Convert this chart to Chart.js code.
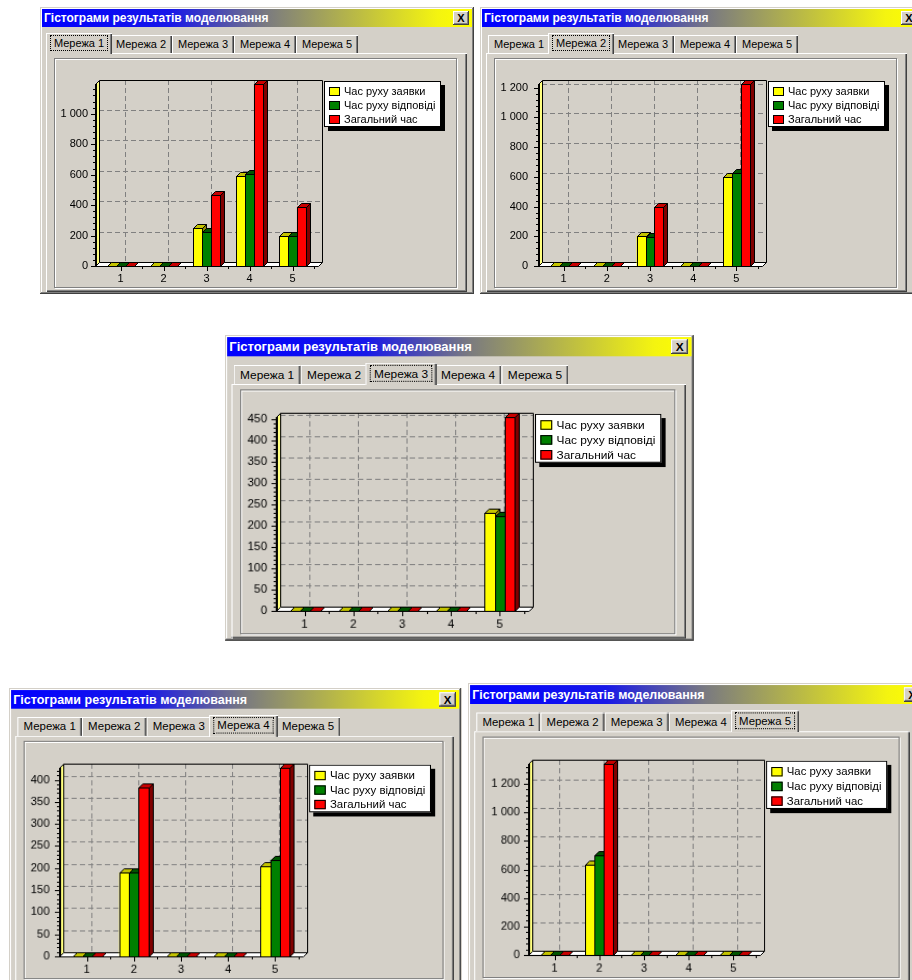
<!DOCTYPE html>
<html lang="uk">
<head>
<meta charset="UTF-8">
<title>Гістограми результатів моделювання</title>
<style>
    body {
        margin: 0;
        width: 912px;
        height: 980px;
        overflow: hidden;
        position: relative;
        background: #fff;
        font-family: "Liberation Sans", Arial, sans-serif;
        font-size: 11px;
        color: #000;
    }

    .win {
        position: absolute;
        width: 434px;
        height: 287px;
        background: #d4d0c8;
        transform-origin: 0 0;
        box-shadow: inset -1px -1px 0 #404040, inset 1px 1px 0 #d4d0c8,
                    inset -2px -2px 0 #808080, inset 2px 2px 0 #fff;
    }

    .title {
        position: absolute;
        left: 2px; top: 2px;
        height: 18px;
        background: linear-gradient(90deg, #0000ff 0%, #1818e8 30%, #7a7a80 52%, #c0c040 75%, #f4f410 92%, #ffff00 100%);
        color: #fff;
        font-weight: bold;
        font-size: 12px;
        line-height: 18px;
        padding-left: 2px;
        box-sizing: border-box;
        white-space: nowrap;
    }

    .close {
        position: absolute;
        top: 4px;
        width: 16px; height: 14px;
        background: #d4d0c8;
        box-shadow: inset -1px -1px 0 #404040, inset 1px 1px 0 #fff, inset -2px -2px 0 #808080;
        font-weight: bold;
        font-size: 11px;
        line-height: 14px;
        text-align: center;
        color: #000;
    }

    .tab {
        position: absolute;
        top: 28px;
        width: 62px; height: 18px;
        background: #d4d0c8;
        box-shadow: inset 1px 1px 0 #fff, inset -1px 0 0 #404040, inset -2px 0 0 #808080;
        line-height: 19px;
        text-align: center;
        white-space: nowrap;
    }

    .tab.active {
        top: 26px;
        height: 21px;
        z-index: 2;
        line-height: 20px;
    }

    .tab.active span {
        outline: 1px dotted #000;
        outline-offset: 1px;
        padding: 0 2px;
    }

    .panel {
        position: absolute;
        left: 6px; top: 46px;
        width: 421px; height: 239px;
        box-shadow: inset 1px 1px 0 #fff, inset -1px -1px 0 #404040, inset -2px -2px 0 #808080;
    }

    .group {
        position: absolute;
        left: 14px; top: 51px;
        width: 403px; height: 230px;
        box-sizing: border-box;
        border: 1px solid #808080;
        box-shadow: inset 1px 1px 0 #fff, 1px 1px 0 #fff;
    }

    canvas {
        position: absolute;
        left: 15px; top: 52px;
    }

    .legend {
        position: absolute;
        top: 74px;
        width: 117px; height: 46px;
        box-sizing: border-box;
        background: #fff;
        border: 1px solid #000;
        box-shadow: 4px 4px 0 #000;
        z-index: 3;
    }

    .legend div {
        position: absolute;
        left: 4px;
        height: 12px;
        line-height: 12px;
        white-space: nowrap;
    }

    .legend i {
        display: inline-block;
        width: 11px; height: 9px;
        box-sizing: border-box;
        border: 1px solid #000;
        vertical-align: -1px;
        margin-right: 4px;
    }
</style>
</head>
<body>
<script src="https://cdn.jsdelivr.net/npm/chart.js"></script>
<script>
    const windowTitle = 'Гістограми результатів моделювання';
    const tabNames = ['Мережа 1', 'Мережа 2', 'Мережа 3', 'Мережа 4', 'Мережа 5'];
    const categories = ['1', '2', '3', '4', '5'];
    const seriesNames = ['Час руху заявки', 'Час руху відповіді', 'Загальний час'];

    // Мережа 1
    const net1Request = [0, 0, 247, 592, 196];
    const net1Response = [0, 0, 220, 606, 196];
    const net1Total = [0, 0, 463, 1195, 390];
    // Мережа 2
    const net2Request = [0, 0, 205, 0, 598];
    const net2Response = [0, 0, 192, 0, 625];
    const net2Total = [0, 0, 399, 0, 1225];
    // Мережа 3
    const net3Request = [0, 0, 0, 0, 229];
    const net3Response = [0, 0, 0, 0, 223];
    const net3Total = [0, 0, 0, 0, 455];
    // Мережа 4
    const net4Request = [0, 190, 0, 0, 204];
    const net4Response = [0, 189, 0, 0, 219];
    const net4Total = [0, 383, 0, 0, 427];
    // Мережа 5
    const net5Request = [0, 635, 0, 0, 0];
    const net5Response = [0, 696, 0, 0, 0];
    const net5Total = [0, 1340, 0, 0, 0];

    const yStep = [200, 200, 50, 50, 200];

    // кольори серій: лицева грань, верх, бік
    const seriesColors = ['#ffff00', '#008000', '#ff0000'];
    const topColors = ['#c4c400', '#005400', '#c80000'];
    const sideColors = ['#8c8c00', '#003c00', '#800000'];

    // розташування вікон на сторінці (x, y, масштаб, ширина) і межі осей всередині вікна
    const layouts = [
        { x: 40, y: 7, sx: 1, sy: 1, w: 434, left: 55, right: 278, gap: 7 },
        { x: 480, y: 7, sx: 1, sy: 1, w: 442, left: 58, right: 282, gap: 10 },
        { x: 224.5, y: 334.6, sx: 1.08, sy: 1.065, w: 434, left: 47, right: 281, gap: 8 },
        { x: 9.4, y: 687.9, sx: 1.042, sy: 1.036, w: 434, left: 48, right: 282, gap: 9 },
        { x: 468, y: 683, sx: 1.035, sy: 1.05, w: 442, left: 58, right: 282, gap: 8 }
    ];

    const netData = [
        [net1Request, net1Response, net1Total],
        [net2Request, net2Response, net2Total],
        [net3Request, net3Response, net3Total],
        [net4Request, net4Response, net4Total],
        [net5Request, net5Response, net5Total]
    ];

    const D = 4;   // глибина 3D
    const E = 4;   // відступ категорій від стінок

    function line(ctx, x1, y1, x2, y2) {
        ctx.beginPath();
        ctx.moveTo(x1, y1);
        ctx.lineTo(x2, y2);
        ctx.stroke();
    }

    function poly(ctx, pts, fill) {
        ctx.beginPath();
        ctx.moveTo(pts[0][0], pts[0][1]);
        for (let k = 1; k < pts.length; k++) ctx.lineTo(pts[k][0], pts[k][1]);
        ctx.closePath();
        ctx.fillStyle = fill;
        ctx.fill();
        ctx.stroke();
    }

    const box3d = {
        id: 'box3d',
        beforeDatasetsDraw(chart) {
            const { ctx, chartArea: a, scales: { x, y } } = chart;
            const l = a.left - E, r = a.right + E, t = a.top, b = a.bottom;
            ctx.save();
            ctx.lineWidth = 1;

            // сітка на задній стінці
            ctx.strokeStyle = '#808080';
            ctx.setLineDash([5, 3]);
            y.ticks.forEach(tk => {
                if (tk.value === 0) return;
                const py = Math.round(y.getPixelForValue(tk.value) - D) + 0.5;
                line(ctx, l + D, py, r + D, py);
            });
            x.ticks.forEach((tk, i) => {
                const px = Math.round(x.getPixelForTick(i) + D) + 0.5;
                line(ctx, px, t - D, px, b - D);
            });
            ctx.setLineDash([]);

            // задня стінка
            ctx.strokeStyle = '#000';
            ctx.beginPath();
            ctx.moveTo(l + D + 0.5, t - D + 0.5);
            ctx.lineTo(r + D + 0.5, t - D + 0.5);
            ctx.lineTo(r + D + 0.5, b - D + 0.5);
            ctx.stroke();

            // ліва стінка і підлога
            poly(ctx, [[l + 0.5, t + 0.5], [l + D + 0.5, t - D + 0.5], [l + D + 0.5, b - D + 0.5], [l + 0.5, b + 0.5]], '#ffff80');
            poly(ctx, [[l + 0.5, b + 0.5], [l + D + 0.5, b - D + 0.5], [r + D + 0.5, b - D + 0.5], [r + 0.5, b + 0.5]], '#ffffff');
            ctx.restore();
        },
        afterDatasetsDraw(chart) {
            const { ctx, chartArea: a, scales: { x, y } } = chart;
            const l = a.left - E, r = a.right + E, t = a.top, b = a.bottom;
            ctx.save();
            ctx.lineWidth = 1;
            ctx.strokeStyle = '#000';

            // стовпчики зліва направо, щоб грані перекривались правильно
            chart.data.labels.forEach((lab, i) => {
                chart.data.datasets.forEach((ds, d) => {
                    const el = chart.getDatasetMeta(d).data[i];
                    const p = el.getProps(['x', 'y', 'base', 'width'], true);
                    const x1 = Math.round(p.x - p.width / 2) + 0.5;
                    const x2 = Math.round(p.x + p.width / 2) + 0.5;
                    const top = Math.round(p.y) + 0.5;
                    const base = Math.round(p.base) + 0.5;
                    poly(ctx, [[x2, top], [x2 + D, top - D], [x2 + D, base - D], [x2, base]], sideColors[d]);
                    poly(ctx, [[x1, top], [x1 + D, top - D], [x2 + D, top - D], [x2, top]], topColors[d]);
                    if (base - top > 0.5) {
                        ctx.fillStyle = seriesColors[d];
                        ctx.fillRect(x1, top, x2 - x1, base - top);
                        ctx.strokeRect(x1, top, x2 - x1, base - top);
                    }
                });
            });

            // передні осі
            ctx.lineWidth = 2;
            line(ctx, l + 1, t, l + 1, b + 1);
            ctx.lineWidth = 1;
            line(ctx, l, b + 0.5, r, b + 0.5);

            // поділки осі Y (великі та дрібні)
            const ticks = y.ticks;
            const sub = (ticks[1].value - ticks[0].value) / 5;
            ticks.forEach(tk => {
                const py = Math.round(y.getPixelForValue(tk.value)) + 0.5;
                line(ctx, l - 4, py, l, py);
                for (let m = 1; m < 5; m++) {
                    const v = tk.value + sub * m;
                    if (v > y.max) break;
                    const my = Math.round(y.getPixelForValue(v)) + 0.5;
                    line(ctx, l - 2, my, l, my);
                }
            });

            // поділки осі X
            const half = (x.getPixelForTick(1) - x.getPixelForTick(0)) / 2;
            x.ticks.forEach((tk, i) => {
                const px = Math.round(x.getPixelForTick(i)) + 0.5;
                line(ctx, px, b + 1, px, b + 5);
                const bx = Math.round(x.getPixelForTick(i) + half) + 0.5;
                line(ctx, bx, b + 1, bx, b + 3);
            });
            ctx.restore();
        }
    };

    Chart.defaults.font.family = "'Liberation Sans', Arial, sans-serif";
    Chart.defaults.font.size = 11;
    Chart.defaults.color = '#000';

    function formatTick(v) {
        return String(v).replace(/\B(?=(\d{3})+(?!\d))/g, ' ');
    }

    function buildWindow(n) {
        const lay = layouts[n];
        const win = document.createElement('div');
        win.className = 'win';
        win.style.left = lay.x + 'px';
        win.style.top = lay.y + 'px';
        win.style.width = lay.w + 'px';
        win.style.transform = `scale(${lay.sx}, ${lay.sy})`;

        let html = `<div class="title" style="width:${lay.w - 4}px">${windowTitle}</div>` +
            `<div class="close" style="left:${lay.w - 21}px">X</div>`;
        html += '<div class="panel"></div><div class="group"></div>';
        tabNames.forEach((name, i) => {
            const active = i === n;
            const left = 8 + 62 * i - (active ? 2 : 0);
            const width = 62 + (active ? 4 : 0);
            html += `<div class="tab${active ? ' active' : ''}" style="left:${left}px;width:${width}px">` +
                (active ? `<span>${name}</span>` : name) + '</div>';
        });
        html += `<div class="legend" style="left:${lay.right + 6}px">` +
            seriesNames.map((s, i) => `<div style="top:${3 + 14 * i}px"><i style="background:${seriesColors[i]}"></i>${s}</div>`).join('') +
            '</div>';
        win.innerHTML = html;

        const canvas = document.createElement('canvas');
        canvas.width = 401;
        canvas.height = 228;
        win.appendChild(canvas);
        document.body.appendChild(win);

        const series = netData[n];
        const step = yStep[n];
        const yWidth = lay.left - 15 + E;

        new Chart(canvas, {
            type: 'bar',
            data: {
                labels: categories,
                datasets: series.map((values, i) => ({
                    label: seriesNames[i],
                    data: values,
                    backgroundColor: seriesColors[i],
                    borderWidth: 0
                }))
            },
            options: {
                responsive: false,
                animation: false,
                events: [],
                layout: {
                    padding: { left: 0, top: 25, right: 401 - (lay.right - 15 - E), bottom: 0 }
                },
                datasets: {
                    bar: { categoryPercentage: 0.62, barPercentage: 1 }
                },
                plugins: {
                    legend: { display: false },
                    tooltip: { enabled: false }
                },
                scales: {
                    x: {
                        offset: true,
                        grid: { display: false, drawTicks: false },
                        border: { display: false },
                        ticks: { padding: 6, maxRotation: 0, autoSkip: false },
                        afterFit(scale) { scale.height = 21; }
                    },
                    y: {
                        min: 0,
                        max: Math.max(...series[2]),
                        grid: { display: false, drawTicks: false },
                        border: { display: false },
                        ticks: { padding: lay.gap + E, autoSkip: false, callback: formatTick },
                        afterBuildTicks(scale) {
                            const list = [];
                            for (let v = 0; v <= scale.max; v += step) list.push({ value: v });
                            scale.ticks = list;
                        },
                        afterFit(scale) { scale.width = yWidth; }
                    }
                }
            },
            plugins: [box3d]
        });
    }

    tabNames.forEach((name, n) => buildWindow(n));
</script>
</body>
</html>
